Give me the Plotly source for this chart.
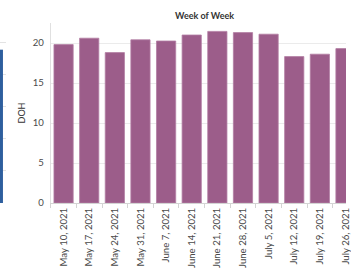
import plotly.graph_objects as go

weeks = ["May 10, 2021", "May 17, 2021", "May 24, 2021", "May 31, 2021",
         "June 7, 2021", "June 14, 2021", "June 21, 2021", "June 28, 2021",
         "July 5, 2021", "July 12, 2021", "July 19, 2021", "July 26, 2021"]
doh = [19.8, 20.6, 18.8, 20.4, 20.25, 21.0, 21.45, 21.3, 21.1, 18.3, 18.6, 19.3]

left_cat = [0]
left_val = [4.77]

W, H = 351, 268
font_fam = "Lato, 'Open Sans', sans-serif"

fig = go.Figure()
fig.add_trace(go.Bar(x=weeks, y=doh, marker=dict(color="#9c5d8a", line=dict(color="#b27ea3", width=0.8)),
                     width=0.75, xaxis="x", yaxis="y", showlegend=False))
fig.add_trace(go.Bar(x=left_cat, y=left_val, marker=dict(color="#2e5f9e", line=dict(width=0)),
                     width=1, xaxis="x2", yaxis="y2", showlegend=False))

fig.update_layout(
    width=W, height=H,
    margin=dict(l=0, r=0, t=23, b=64),
    paper_bgcolor="white", plot_bgcolor="white",
    font=dict(family=font_fam, size=9, color="#666666"),
    xaxis=dict(domain=[51.5 / W, 1], type="category", range=[-0.5, 11.02],
               tickangle=-90, showgrid=False, showline=True, linecolor="#d4d4d4",
               ticks="outside", tickson="boundaries", ticklen=4, tickcolor="#d4d4d4",
               tickfont=dict(size=9.6, color="#4a4a4a"), zeroline=False),
    yaxis=dict(domain=[0, 1], range=[0, 22.5], dtick=5, showgrid=True, gridcolor="#ebebeb",
               showline=True, linecolor="#e0e0e0", zeroline=False,
               ticks="", ticklabelstandoff=4,
               tickfont=dict(size=9.6, color="#4a4a4a"),
               title=dict(text="DOH", font=dict(size=9, color="#333333"), standoff=5)),
    xaxis2=dict(domain=[0, 6 / W], range=[-0.5, 1.5], showgrid=False, showticklabels=False,
                zeroline=False, showline=False, anchor="y2"),
    yaxis2=dict(domain=[0, 1], range=[0, 5.6], dtick=1, showgrid=True, gridcolor="#e3e3e3",
                showticklabels=False, zeroline=False, showline=False, anchor="x2"),
    annotations=[dict(text="<b>Week of Week</b>", x=207 / W, y=15, xref="paper", yref="paper",
                      showarrow=False, font=dict(size=9, color="#333333", family=font_fam),
                      xanchor="center", yanchor="middle")],
)
plot_h = H - 23 - 64
fig.layout.annotations[0].y = 1 + (23 - 15) / plot_h

fig.write_html("out.html", config={"displayModeBar": False},
               post_script="document.body.style.margin='0';document.body.style.overflow='hidden';")
